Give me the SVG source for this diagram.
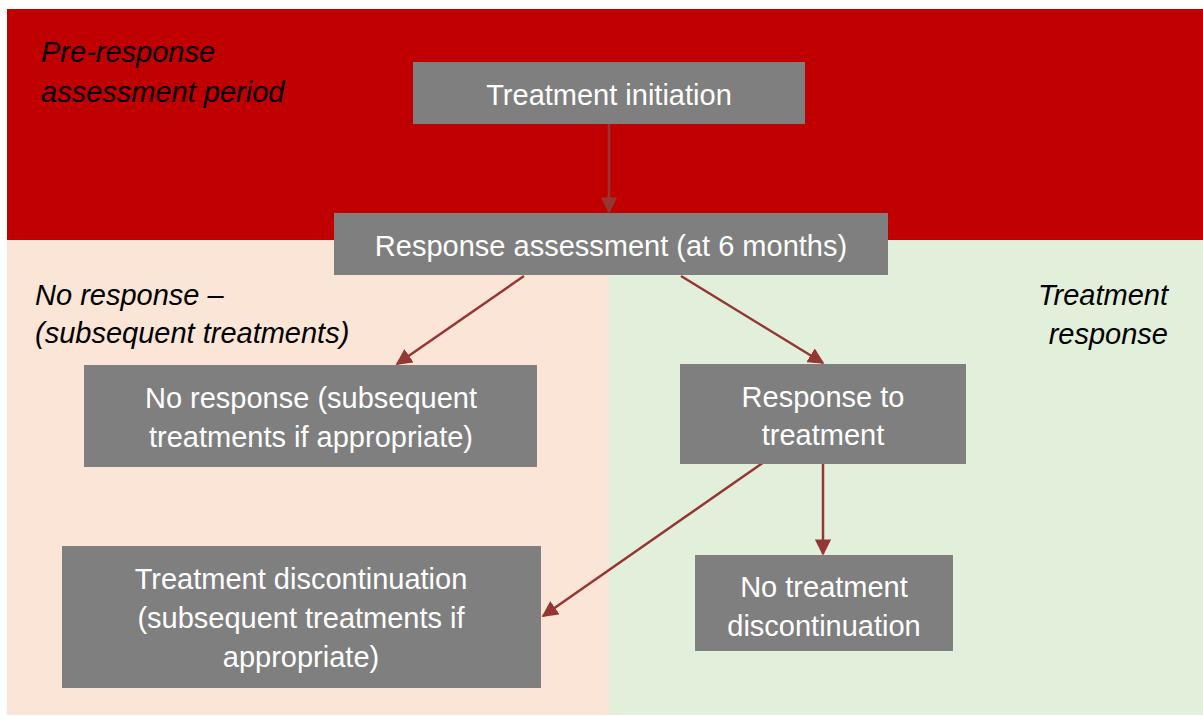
<svg xmlns="http://www.w3.org/2000/svg" width="1203" height="716" viewBox="0 0 1203 716">
<style>
.box{fill:#7F7F7F}
.bt{fill:#FFFFFF;font-family:"Liberation Sans",Arial,sans-serif;font-size:29px;text-anchor:middle}
.lab{fill:#000000;font-family:"Liberation Sans",Arial,sans-serif;font-size:29px;font-style:italic}
.conn{stroke:#943634;stroke-width:2.5;fill:none;marker-end:url(#ah)}
</style>
<defs>
<marker id="ah" viewBox="0 0 10 10" refX="9" refY="5" markerWidth="6.5" markerHeight="6.5" markerUnits="strokeWidth" orient="auto">
<path d="M0,0 L10,5 L0,10 z" fill="#943634"/>
</marker>
</defs>
<rect width="1203" height="716" fill="#FFFFFF"/>
<g id="backgrounds">
<rect x="7" y="240" width="602" height="475" fill="#FBE5D6"/>
<rect x="609" y="240" width="594" height="475" fill="#E2EFDA"/>
<rect x="7" y="9" width="1196" height="231" fill="#C00000"/>
</g>
<g id="labels">
<text class="lab" x="41" y="62">Pre-response</text>
<text class="lab" x="41" y="102">assessment period</text>
<text class="lab" x="35" y="305">No response –</text>
<text class="lab" x="35" y="343">(subsequent treatments)</text>
<text class="lab" x="1168" y="305" text-anchor="end">Treatment</text>
<text class="lab" x="1168" y="344" text-anchor="end">response</text>
</g>
<g id="connectors">
<line class="conn" x1="609" y1="124" x2="609" y2="212"/>
<line class="conn" x1="524" y1="276" x2="397" y2="364"/>
<line class="conn" x1="681" y1="276" x2="823" y2="363"/>
<line class="conn" x1="764" y1="462" x2="543" y2="616"/>
<line class="conn" x1="823" y1="464" x2="823" y2="554"/>
</g>
<g id="n1">
<rect class="box" x="413" y="62" width="392" height="62"/>
<text class="bt" x="609" y="105">Treatment initiation</text>
</g>
<g id="n2">
<rect class="box" x="334" y="213" width="554" height="62"/>
<text class="bt" x="611" y="256">Response assessment (at 6 months)</text>
</g>
<g id="n3">
<rect class="box" x="84" y="365" width="453" height="102"/>
<text class="bt" x="311" y="408">No response (subsequent</text>
<text class="bt" x="311" y="447">treatments if appropriate)</text>
</g>
<g id="n4">
<rect class="box" x="680" y="364" width="286" height="100"/>
<text class="bt" x="823" y="407">Response to</text>
<text class="bt" x="823" y="445">treatment</text>
</g>
<g id="n5">
<rect class="box" x="62" y="546" width="479" height="142"/>
<text class="bt" x="301" y="589">Treatment discontinuation</text>
<text class="bt" x="301" y="628">(subsequent treatments if</text>
<text class="bt" x="301" y="667">appropriate)</text>
</g>
<g id="n6">
<rect class="box" x="695" y="555" width="258" height="96"/>
<text class="bt" x="824" y="597">No treatment</text>
<text class="bt" x="824" y="636">discontinuation</text>
</g>
</svg>
